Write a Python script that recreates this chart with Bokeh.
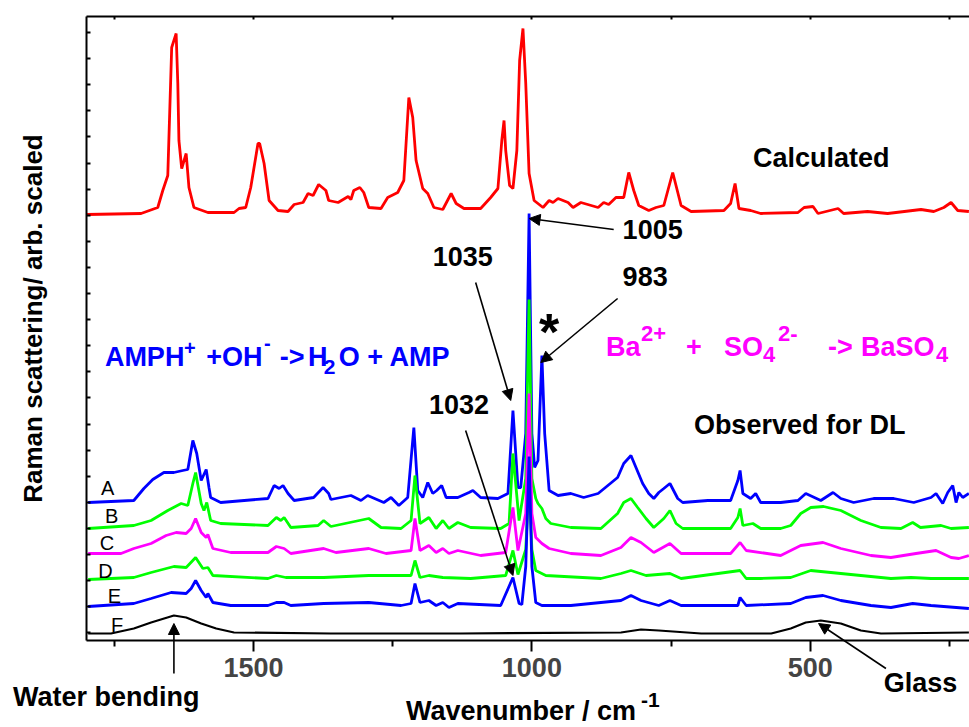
import math
from bokeh.plotting import figure
from bokeh.models import Range1d, LinearAxis, FixedTicker, Label, Arrow, NormalHead
from bokeh.embed import file_html
from bokeh.resources import INLINE

# ---------------- data (wavenumber / cm-1, intensity arb.) ----------------
calc_wn = [1799, 1702, 1672, 1663, 1654, 1647, 1639, 1636, 1634, 1629, 1621, 1616, 1607, 1582, 1535, 1526, 1514,
           1505, 1492, 1489, 1481, 1472, 1456, 1438, 1427, 1411, 1402, 1393, 1383, 1370, 1365, 1348, 1330, 1325,
           1320, 1309, 1302, 1293, 1271, 1259, 1241, 1230, 1221, 1214, 1208, 1196, 1187, 1176, 1160, 1145, 1136,
           1122, 1092, 1074, 1061, 1054, 1050, 1047, 1040, 1034, 1027, 1022, 1016, 1011, 1005, 996, 980, 969, 962,
           953, 935, 926, 912, 881, 871, 862, 849, 835, 826, 817, 808, 790, 777, 763, 747, 732, 714, 655, 643, 635,
           628, 607, 589, 522, 511, 495, 486, 450, 440, 397, 361, 301, 278, 260, 247, 235, 215]
calc_int = [0, 1, 7, 24, 39, 167, 181, 131, 74, 46, 61, 27, 7, 2, 2, 6, 7,
            27, 71, 71, 51, 14, 4, 3, 10, 12, 21, 19, 30, 24, 14, 12, 18, 15,
            24, 27, 22, 7, 6, 17, 22, 34, 117, 97, 54, 26, 21, 7, 5, 21, 11,
            6, 6, 17, 26, 74, 94, 64, 29, 26, 64, 154, 186, 131, 41, 14, 7, 14, 12,
            16, 12, 7, 12, 7, 12, 10, 17, 17, 42, 24, 9, 4, 7, 9, 42, 9, 3, 4, 11, 31,
            6, 4, 1, 2, 7, 8, 1, 6, 1, 3, 1, 5, 3, 7, 12, 4, 3]

a_wn = [1797, 1715, 1697, 1681, 1661, 1643, 1627, 1618, 1609, 1602, 1594, 1585, 1580, 1577, 1559, 1474, 1463,
        1454, 1447, 1438, 1427, 1392, 1375, 1365, 1361, 1325, 1307, 1295, 1266, 1253, 1239, 1223, 1212, 1205,
        1196, 1187, 1178, 1171, 1162, 1154, 1133, 1113, 1106, 1092, 1061, 1043, 1034, 1025, 1020, 1011, 1005,
        1000, 995, 989, 982, 977, 969, 953, 930, 907, 881, 846, 835, 822, 813, 801, 790, 781, 772, 763, 752,
        738, 729, 684, 643, 630, 626, 621, 607, 598, 589, 553, 522, 508, 481, 459, 445, 422, 386, 350, 314,
        283, 274, 262, 253, 244, 238, 233, 226, 215]
a_int = [0, 2, 14, 23, 30, 30, 32, 33, 62, 49, 22, 33, 15, 5, 0, 4, 17,
         14, 17, 9, 2, 5, 15, 9, 3, 7, 2, 7, 0, 5, -3, 5, 75, 12,
         5, 20, 9, 12, 17, 5, 5, 10, 12, 5, 4, 9, 92, 15, 15, 69, 289,
         69, 35, 42, 147, 69, 12, 7, 9, 5, 9, 25, 39, 47, 35, 19, 9, 4, 10, 14, 19,
         4, 0, 2, 2, 22, 32, 9, 4, 9, 0, 0, 2, 9, 2, 10, 4, 0, 4, 4, 0,
         5, 9, -1, 10, 17, 0, 10, 5, 9]

b_wn = [1797, 1715, 1684, 1654, 1630, 1618, 1609, 1604, 1594, 1589, 1584, 1577, 1559, 1474, 1459, 1451, 1445,
        1433, 1384, 1374, 1361, 1293, 1271, 1235, 1217, 1210, 1201, 1185, 1172, 1160, 1149, 1133, 1110, 1056,
        1041, 1034, 1023, 1011, 1005, 1000, 993, 989, 982, 975, 966, 930, 876, 846, 835, 822, 810, 795, 781,
        763, 752, 741, 729, 643, 630, 626, 621, 603, 589, 553, 535, 517, 499, 476, 445, 409, 373, 337, 316,
        302, 265, 247, 215]
b_int = [0, 3, 8, 18, 25, 23, 45, 56, 25, 18, 26, 8, 5, 3, 11, 8, 11,
         1, 3, 8, 2, 10, 1, 0, 8, 53, 5, 11, 0, 8, 0, 6, 1, 0,
         5, 75, 8, 50, 229, 50, 30, 25, 20, 10, 5, 1, 0, 15, 26, 30, 21, 10, 1,
         10, 18, 5, 0, 0, 11, 20, 3, 5, 0, 0, 3, 15, 21, 22, 18, 8, 1, 0, 6,
         1, 3, 0, 1]

c_wn = [1797, 1738, 1715, 1684, 1657, 1639, 1621, 1612, 1604, 1594, 1585, 1582, 1573, 1541, 1474, 1459, 1445,
        1433, 1374, 1352, 1293, 1262, 1217, 1210, 1201, 1185, 1172, 1160, 1149, 1133, 1092, 1047, 1034, 1025,
        1011, 1005, 1000, 993, 982, 969, 930, 876, 840, 822, 804, 781, 752, 732, 643, 626, 615, 553, 517, 477,
        445, 391, 355, 310, 274, 247, 233, 215]
c_int = [0, 0, 5, 10, 18, 21, 20, 25, 35, 21, 16, 19, 5, 1, 1, 7, 5,
         0, 5, 1, 5, 0, 3, 35, 3, 8, 1, 5, 0, 3, -2, 1, 46, 3,
         40, 160, 40, 16, 10, 5, 0, -2, 6, 16, 11, 1, 10, 0, 0, 11, 3, -2, 8, 11,
         5, -2, -4, 0, 3, -4, -5, -2]

d_wn = [1797, 1715, 1684, 1643, 1621, 1604, 1591, 1582, 1573, 1474, 1459, 1442, 1374, 1293, 1217, 1210, 1201,
        1185, 1160, 1110, 1047, 1034, 1025, 1011, 1005, 1000, 993, 975, 876, 840, 822, 795, 752, 732, 626, 615,
        589, 535, 499, 463, 409, 355, 319, 283, 215]
d_int = [0, 2, 7, 13, 12, 22, 11, 12, 4, 1, 4, 2, 2, 4, 4, 19, 2,
         4, 2, 1, 4, 29, 5, 30, 99, 30, 9, 4, 1, 6, 9, 4, 6, 1, 9, 1,
         1, 2, 9, 7, 4, 1, 2, 1, 1]

e_wn = [1797, 1715, 1684, 1648, 1621, 1612, 1604, 1594, 1585, 1582, 1573, 1541, 1474, 1459, 1445, 1433, 1374,
        1293, 1235, 1217, 1210, 1201, 1185, 1172, 1160, 1149, 1133, 1056, 1034, 1023, 1018, 1011, 1005, 1000,
        993, 982, 930, 840, 822, 804, 772, 752, 732, 630, 626, 615, 535, 508, 477, 445, 391, 355, 316, 283, 215]
e_int = [0, 3, 8, 14, 13, 18, 26, 16, 9, 13, 4, 1, 1, 4, 4, 1, 3,
         4, 1, 3, 23, 4, 6, 1, 4, -1, 3, 1, 29, 3, 2, 40, 150, 40,
         4, 1, 1, 6, 11, 6, 1, 6, 1, 1, 9, 1, 3, 9, 11, 6, 1, -1, 3, 1, -2]

f_wn = [1797, 1756, 1715, 1684, 1643, 1621, 1594, 1567, 1535, 1361, 1128, 840, 804, 772, 696, 570, 535, 508,
        481, 445, 409, 373, 215]
f_int = [0, 0, 5, 11, 18, 16, 10, 5, 1, 0, 0, 1, 4, 3, 0, 0, 5, 11,
         13, 10, 3, 0, 1]

# vertical offsets of the stacked spectra
offsets = {"calc": 426, "A": 138, "B": 112, "C": 87, "D": 61, "E": 34, "F": 7}

x_major = [1500, 1000, 500]
x_minor = [1750, 1250, 750, 250]
x_top_ticks = [1750, 1500, 1250, 1000, 750, 500, 250]

# ---------------- figure ----------------
FONT = "Liberation Sans"
X_LO, X_HI = 1800, 214      # axis extent (wavenumber)
Y_LO, Y_HI = 0, 624         # stacked-intensity extent

p = figure(width=969, height=727, output_backend="svg", toolbar_location=None,
           x_range=Range1d(1954.5, 213.9), y_range=Range1d(-87, 640),
           x_axis_location=None, y_axis_location=None, min_border=0)
p.outline_line_color = None
p.xgrid.visible = False
p.ygrid.visible = False
p.background_fill_color = "white"
p.border_fill_color = "white"

# bottom axis (drawn at the lower edge of the data box)
xb = LinearAxis(ticker=FixedTicker(ticks=x_major, minor_ticks=x_minor),
                fixed_location=Y_LO, bounds=(X_LO, X_HI))
xb.axis_line_width = 2
xb.major_tick_out = 11
xb.major_tick_in = 0
xb.minor_tick_out = 6
xb.minor_tick_in = 0
xb.major_tick_line_width = 2
xb.minor_tick_line_width = 2
xb.major_label_text_font = FONT
xb.major_label_text_font_style = "bold"
xb.major_label_text_font_size = "27px"
xb.major_label_standoff = 6
p.add_layout(xb, "below")

# top frame line with inner ticks
xt = LinearAxis(ticker=FixedTicker(ticks=[], minor_ticks=x_top_ticks),
                fixed_location=Y_HI, bounds=(X_LO, X_HI))
xt.axis_line_width = 2
xt.major_tick_out = 0
xt.major_tick_in = 0
xt.minor_tick_out = 0
xt.minor_tick_in = 3
xt.minor_tick_line_width = 2
p.add_layout(xt, "above")

# left frame line with inner ticks (no tick labels)
y_ticks = [7.7 + 26.1 * k for k in range(24)]
yl = LinearAxis(ticker=FixedTicker(ticks=[], minor_ticks=y_ticks),
                fixed_location=X_LO, bounds=(Y_LO, Y_HI))
yl.axis_line_width = 2
yl.major_tick_out = 0
yl.major_tick_in = 0
yl.minor_tick_out = 0
yl.minor_tick_in = 4
yl.minor_tick_line_width = 2
p.add_layout(yl, "left")

# spectra
def shifted(vals, off):
    return [off + v for v in vals]

LW = 2.8
p.line(calc_wn, shifted(calc_int, offsets["calc"]), line_color="#ff0000", line_width=LW)
p.line(a_wn, shifted(a_int, offsets["A"]), line_color="#0000ff", line_width=LW)
p.line(b_wn, shifted(b_int, offsets["B"]), line_color="#00ff00", line_width=LW)
p.line(c_wn, shifted(c_int, offsets["C"]), line_color="#ff00ff", line_width=LW)
p.line(d_wn, shifted(d_int, offsets["D"]), line_color="#00ff00", line_width=LW)
p.line(e_wn, shifted(e_int, offsets["E"]), line_color="#0000ff", line_width=LW)
p.line(f_wn, shifted(f_int, offsets["F"]), line_color="#000000", line_width=2.2)

# ---------------- annotations ----------------
def txt(x, y, s, size=27, color="black", bold=True, align="left", baseline="alphabetic", angle=0.0):
    p.add_layout(Label(x=x, y=y, text=s, text_font=FONT, text_font_size=f"{size}px",
                       text_font_style="bold" if bold else "normal", text_color=color,
                       text_align=align, text_baseline=baseline, angle=angle))

def arrow(x0, y0, x1, y1):
    p.add_layout(Arrow(end=NormalHead(size=11, fill_color="black", line_color="black", line_width=1),
                       x_start=x0, y_start=y0, x_end=x1, y_end=y1,
                       line_color="black", line_width=1.6))

txt(603, 483, "Calculated")
txt(837, 411, "1005")
txt(1178, 384, "1035")
txt(837, 364, "983")
txt(987, 309, "*", size=52)
txt(1185, 236, "1032")
txt(709, 216, "Observed for DL")

BLUE = "#0000ff"
MAG = "#ff00ff"
txt(1767, 284, "AMPH", color=BLUE)
txt(1625, 293, "+", size=20, color=BLUE)
txt(1585, 284, "+OH", color=BLUE)
txt(1481, 298, "-", size=20, color=BLUE)
txt(1453, 284, "->", color=BLUE)
txt(1402, 284, "H", color=BLUE)
txt(1374, 274, "2", size=21, color=BLUE)
txt(1347, 284, "O + AMP", color=BLUE)

txt(867, 294, "Ba", color=MAG)
txt(804, 307, "2+", size=22, color=MAG)
txt(723, 294, "+", color=MAG)
txt(655, 294, "SO", color=MAG)
txt(585, 286, "4", size=22, color=MAG)
txt(558, 307, "2-", size=22, color=MAG)
txt(468, 294, "->", color=MAG)
txt(409, 294, "BaSO", color=MAG)
txt(274, 286, "4", size=22, color=MAG)

for name, xx, yy in [("A", 1774, 153), ("B", 1767, 125), ("C", 1776, 98),
                     ("D", 1779, 70), ("E", 1762, 45), ("F", 1756, 16)]:
    txt(xx, yy, name, size=20, bold=False)

txt(1932, -56, "Water bending")
txt(368, -42, "Glass")
txt(1226, -70, "Wavenumber / cm")
txt(804, -59, "-1", size=21)
txt(1896, 322, "Raman scattering/ arb. scaled", size=26, align="center", baseline="alphabetic", angle=math.pi / 2)

arrow(853, 411, 1005, 422)
arrow(1101, 358, 1038, 240)
arrow(846, 342, 984, 278)
arrow(1119, 210, 1034, 65)
arrow(1643, -33, 1643, 17)
arrow(364, -28, 485, 17)

open("out.html", "w").write(file_html(p, INLINE))
